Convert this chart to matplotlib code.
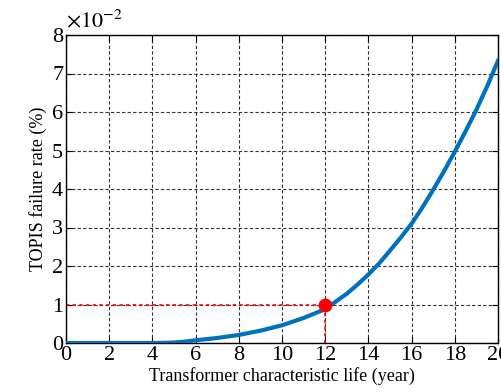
import matplotlib
matplotlib.use("Agg")
import matplotlib.pyplot as plt

# characteristic life (years) vs TOPIS failure rate (x1e-2 %)
life = [0, 1, 2, 3, 4, 4.5, 5, 5.5, 6, 7, 8, 9, 10, 11, 12, 13, 13.5, 14, 14.5,
        15, 15.5, 16, 16.5, 17, 17.5, 18, 18.5, 19, 19.5, 20]
rate = [0, 0, 0, 0, 0, 0.003, 0.012, 0.035, 0.07, 0.13, 0.21, 0.32, 0.46, 0.65,
        0.88, 1.28, 1.52, 1.78, 2.07, 2.4, 2.74, 3.1, 3.52, 3.98, 4.46, 4.97,
        5.5, 6.06, 6.67, 7.33]
mark_x = 12
mark_y = 1.0
xticks = list(range(0, 21, 2))
yticks = list(range(0, 9))

plt.rcParams["font.family"] = ["Liberation Serif", "DejaVu Serif"]
plt.rcParams["mathtext.fontset"] = "stix"

fig = plt.figure(figsize=(5.02, 3.92), dpi=100)
ax = fig.add_axes([66 / 502, 49 / 392, 432 / 502, 308 / 392])

ax.plot(life, rate, color="#0072BD", linewidth=3, zorder=3, solid_joinstyle="round")
ax.plot([0, mark_x], [mark_y, mark_y], color="red", linestyle=(0, (2, 2)), linewidth=1.2, zorder=2)
ax.plot([mark_x, mark_x], [0, mark_y], color="red", linestyle=(0, (2, 2)), linewidth=1.2, zorder=2)
ax.plot([mark_x], [mark_y], "o", color="red", markersize=9, zorder=4)

ax.set_xlim(0, 20)
ax.set_ylim(0, 8)
ax.set_xticks(xticks)
ax.set_yticks(yticks)
ax.tick_params(direction="in", top=True, right=True, labelsize=16, length=4, pad=2)
ax.grid(True, color="#333333", linestyle=(0, (3, 2)), linewidth=0.8)
for s in ax.spines.values():
    s.set_linewidth(1.0)

ax.set_xlabel("Transformer characteristic life (year)", fontsize=13, labelpad=2)
ax.set_ylabel("TOPIS failure rate (%)", fontsize=13, labelpad=4)
ax.text(0.0, 1.01, r"$\times10^{-2}$", transform=ax.transAxes, fontsize=16,
        ha="left", va="bottom")

fig.savefig("out.png", dpi=100)
